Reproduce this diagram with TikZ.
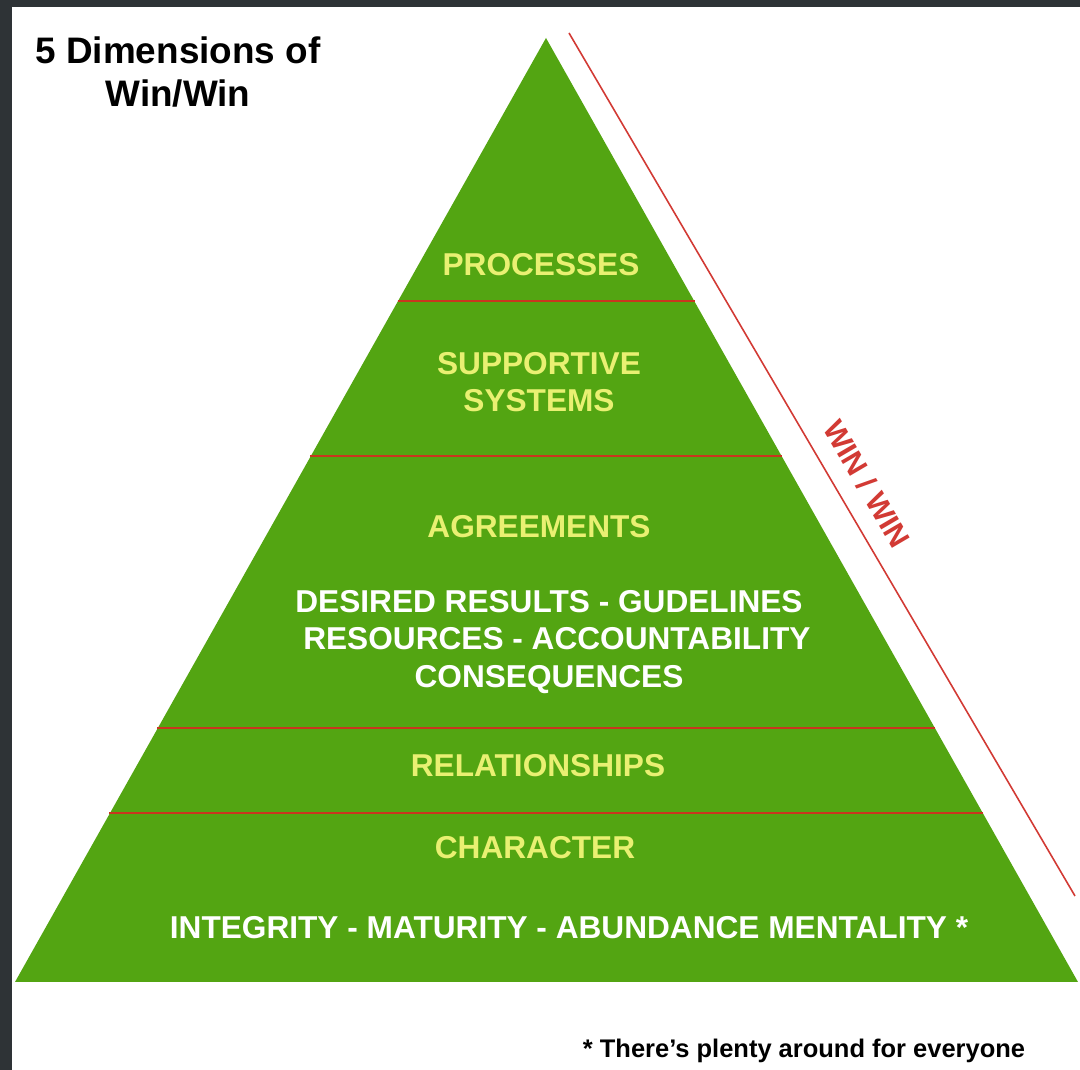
\documentclass[tikz,border=0pt]{standalone}
\usepackage{fontspec}
\setmainfont{Liberation Sans}
\usepackage{xcolor}
\usetikzlibrary{positioning}

\definecolor{pyrgreen}{HTML}{53A512}
\definecolor{pyryellow}{HTML}{E9F072}
\definecolor{pyrred}{HTML}{C9361E}
\definecolor{winred}{HTML}{D23A34}
\definecolor{slate}{HTML}{2E3336}

\tikzset{
  level/.style={font=\bfseries\fontsize{18}{21}\selectfont,text=pyryellow},
  detail/.style={font=\bfseries\fontsize{18}{21.5}\selectfont,text=white,align=center},
  divider/.style={pyrred,line width=1.2pt},
}

\begin{document}
\begin{tikzpicture}[x=0.02cm,y=-0.02cm]
	\useasboundingbox (0,0) rectangle (1080,1070);
	\fill[slate] (0,0) rectangle (1080,1070);
	\fill[white] (12,7) rectangle (1080,1070);
	% the pyramid
	\coordinate (apex) at (546,38);
	\coordinate (bl) at (15,982);
	\coordinate (br) at (1078,982);
	\fill[pyrgreen] (apex) -- (br) -- (bl) -- cycle;
	\draw[divider] (397.5,301) -- (694.5,301);
	\draw[divider] (310,456) -- (782,456);
	\draw[divider] (157,728) -- (935,728);
	\draw[divider] (109,813) -- (983,813);
	% side line
	\coordinate (s1) at (569,33);
	\coordinate (s2) at (1075,896);
	\draw[winred,line width=0.9pt] (s1) -- (s2);
	\node[font=\bfseries\fontsize{17}{19}\selectfont,text=winred,rotate=-59.6] (winwin) at (867,484) {WIN / WIN};
	% levels
	\node[level] (proc) at (541,265) {PROCESSES};
	\node[level,align=center] (supp) at (539,382) {SUPPORTIVE\\SYSTEMS};
	\node[level] (agree) at (539,527) {AGREEMENTS};
	\node[detail] (agreetxt) at (549,642) {DESIRED RESULTS - GUDELINES\\ \hspace{0.5em}RESOURCES - ACCOUNTABILITY\\CONSEQUENCES};
	\node[level] (rel) at (538,766) {RELATIONSHIPS};
	\node[level] (char) at (535,848) {CHARACTER};
	\node[detail] (chartxt) at (569,928) {INTEGRITY - MATURITY - ABUNDANCE MENTALITY *};
	% title and note
	\node[font=\bfseries\fontsize{21}{25}\selectfont,align=center] (title) at (178,72) {5 Dimensions of\\Win/Win};
	\node[font=\bfseries\fontsize{14.5}{16}\selectfont] (note) at (804,1051) {* There's plenty around for everyone};
\end{tikzpicture}
\end{document}
